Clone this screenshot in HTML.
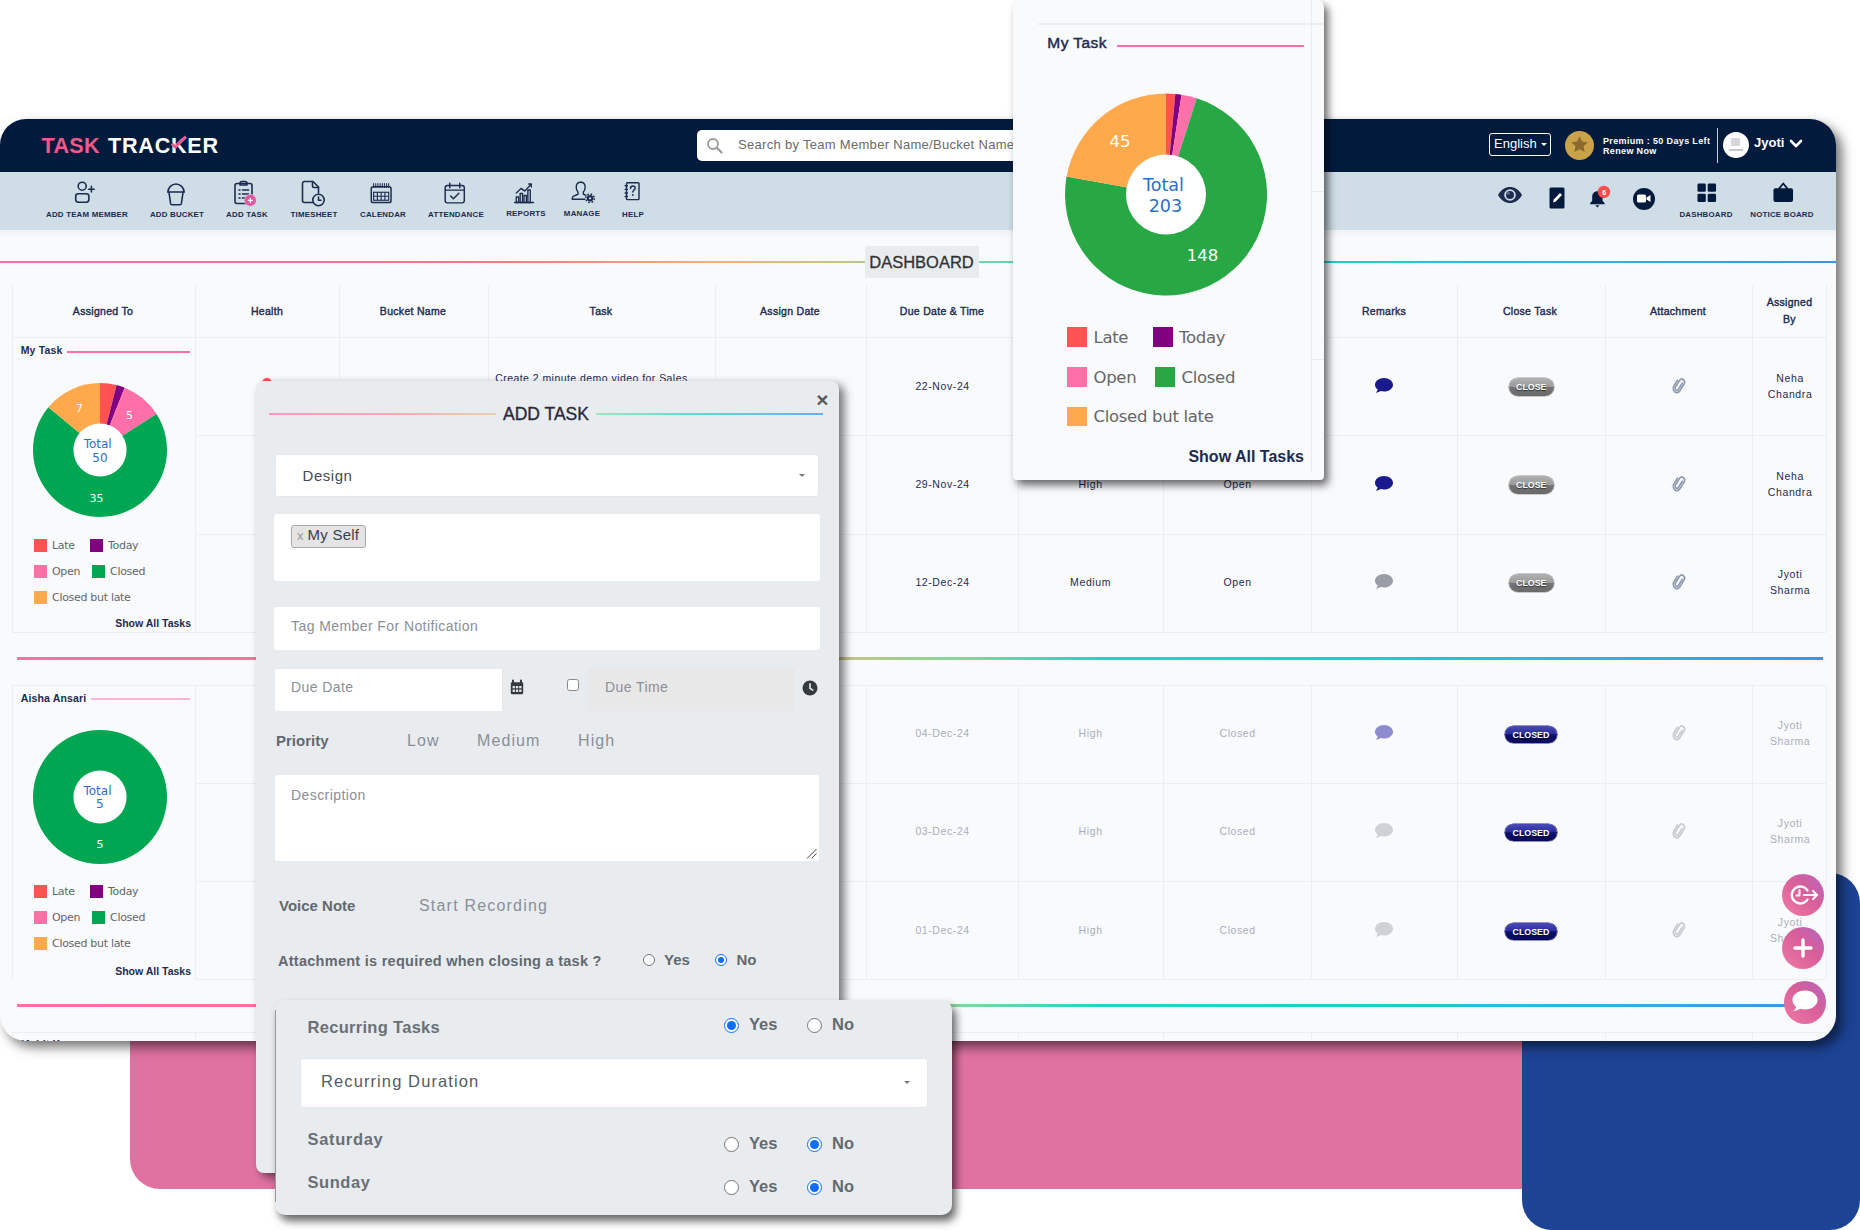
<!DOCTYPE html>
<html lang="en">
<head>
<meta charset="utf-8">
<title>Task Tracker</title>
<style>
*{box-sizing:border-box;margin:0;padding:0}
html,body{width:1860px;height:1230px;overflow:hidden;background:#fff;font-family:"Liberation Sans",sans-serif;color:#1d2b4f}
.abs{position:absolute}
#stage{position:relative;width:1860px;height:1230px;overflow:hidden}
#pink{left:129.5px;top:900px;width:1500px;height:289px;background:#e072a2;border-radius:0 0 0 30px}
#blue{left:1522px;top:873px;width:338px;height:357px;background:#1c4394;border-radius:30px}
#app{left:0;top:119px;width:1836px;height:921.7px;background:#f9fafc;border-radius:26px;box-shadow:6px 6px 12px rgba(0,0,0,.55)}
#appin{left:0;top:0;width:1836px;height:921.7px;border-radius:26px;overflow:hidden}
#hdr{left:0;top:0;width:1836px;height:53px;background:#021b3d}
#tb{left:0;top:53px;width:1836px;height:58px;background:#cfdde6}
#tbsh{left:0;top:111px;width:1836px;height:8px;background:linear-gradient(#eef1f5,#f9fafc)}
.t{position:absolute;white-space:nowrap;line-height:1}
.c{transform:translateX(-50%);text-align:center}
.r{transform:translateX(-100%);text-align:right}
.lbl{font-size:7.9px;font-weight:bold;letter-spacing:.2px;color:#1d2b4f}
.vl{position:absolute;width:1px;background:#eceef2}
.hl{position:absolute;height:1px;background:#eceef2}
.th{font-size:10.5px;letter-spacing:.3px;color:#1d2b4f;-webkit-text-stroke:.4px #1d2b4f}
.td{font-size:10.5px;color:#1d2b4f;letter-spacing:.6px;padding-left:1.2px}
.fd{color:#a9aebb}
.g{font-family:"DejaVu Sans",sans-serif}
.lg{font-family:"DejaVu Sans",sans-serif;color:#666;font-size:11px;letter-spacing:-.3px}
.grad{position:absolute;height:2px;background:linear-gradient(90deg,#ff6fa5 0%,#ff7296 18%,#f67c80 28%,#f5ae7c 39%,#c3c487 46%,#86d69a 52%,#1fd6c6 60%,#14d3cb 74%,#2db6e0 86%,#3f93e6 100%)}
.pill{position:absolute;height:17.5px;border-radius:9px;font-size:8.8px;font-weight:bold;color:#fff;text-align:center;line-height:18px;text-shadow:0 1px 1px rgba(0,0,0,.55)}
.close{width:45.5px;background:linear-gradient(#b0b0b0 0%,#9c9c9c 48%,#747474 52%,#6a6a6a 100%);box-shadow:0 0 0 .6px #9a9a9a}
.closed{width:52.5px;background:linear-gradient(#4a4ab8 0%,#2c2c9c 46%,#0e0e6a 52%,#0a0a5c 100%);box-shadow:0 0 0 .6px #2a2a80}
.inp{position:absolute;background:#fff;border-radius:3px}
.ph{color:#8a8f98;letter-spacing:.42px}
.rad{position:absolute;width:13px;height:13px;border-radius:50%;border:1px solid #767676;background:#fff}
.rad.on{border:1.5px solid #0d6efd}
.rad.on::after{content:"";position:absolute;left:2px;top:2px;right:2px;bottom:2px;border-radius:50%;background:#0d6efd}
.fab{position:absolute;width:42.600px;height:42.600px;border-radius:50%;background:linear-gradient(225deg,#b565c0 0%,#d85f98 45%,#f07ba8 100%)}
</style>
</head>
<body>
<div id="stage">
<div id="pink" class="abs"></div>
<div id="blue" class="abs"></div>
<div id="app" class="abs"><div id="appin" class="abs">
<div id="hdr" class="abs"></div>
<div id="tb" class="abs"></div>
<div id="tbsh" class="abs"></div>

<div class="t" style="left:41.600px;top:15.900px;font-size:21.600px;font-weight:bold;letter-spacing:.25px;word-spacing:2px;color:#fff"><span style="color:#ee5a8a">TASK</span> <span style="letter-spacing:.75px">TRACKER</span></div>
<svg class="abs" style="left:168px;top:14px" width="22" height="18" viewBox="168 133 22 18"><path d="M171.700 143.600l3.600 3.500 10.600-10.500" fill="none" stroke="#ee5a8a" stroke-width="3"/></svg>
<div class="abs" style="left:697px;top:11px;width:360px;height:30.5px;background:#fff;border-radius:5px"></div>
<svg class="abs" style="left:706px;top:18px" width="18" height="18" viewBox="0 0 18 18"><circle cx="7" cy="7" r="5" fill="none" stroke="#9a9a9a" stroke-width="1.8"/><path d="M10.8 10.8L15.5 15.5" stroke="#9a9a9a" stroke-width="2.2" stroke-linecap="round"/></svg>
<div class="t" style="left:738px;top:18.5px;font-size:13px;letter-spacing:.3px;color:#6a6a6a">Search by Team Member Name/Bucket Name</div>
<div class="abs" style="left:1489px;top:14px;width:62px;height:23px;border:1px solid #fff;border-radius:3px"></div>
<div class="t" style="left:1494px;top:18px;font-size:13px;color:#fff">English</div>
<div class="abs" style="left:1541px;top:24px;width:0;height:0;border-left:3px solid transparent;border-right:3px solid transparent;border-top:3px solid #fff"></div>
<div class="abs" style="left:1565px;top:12px;width:29px;height:29px;border-radius:50%;background:#c9a24a"></div>
<svg class="abs" style="left:1569px;top:15px" width="21" height="21" viewBox="0 0 24 24"><path d="M12 2.5l2.9 6.2 6.6.8-4.9 4.6 1.3 6.6L12 17.4l-5.9 3.3 1.3-6.6L2.5 9.5l6.6-.8z" fill="#8a6a2f"/></svg>
<div class="t" style="left:1603px;top:16.5px;font-size:9px;font-weight:bold;letter-spacing:.35px;color:#fff;line-height:10px;white-space:pre">Premium : 50 Days Left
Renew Now</div>
<div class="abs" style="left:1717px;top:9px;width:1px;height:35px;background:#c8d0dc"></div>
<div class="abs" style="left:1723px;top:13px;width:26px;height:26px;border-radius:50%;background:#fff"></div>
<div class="abs" style="left:1731px;top:19px;width:9px;height:8px;background:#d5d7db;border-radius:1px"></div>
<div class="abs" style="left:1729px;top:30px;width:14px;height:2px;background:#c5c7cb"></div>
<div class="t" style="left:1754px;top:17px;font-size:13px;font-weight:bold;color:#fff">Jyoti</div>
<svg class="abs" style="left:1789px;top:20px" width="14" height="10" viewBox="0 0 14 10"><path d="M2 2l5 5 5-5" fill="none" stroke="#fff" stroke-width="2.6" stroke-linecap="round" stroke-linejoin="round"/></svg>


<svg class="abs" style="left:72px;top:61px" width="26" height="26" viewBox="0 0 26 26"><circle cx="10.2" cy="6.2" r="4" fill="none" stroke="#1d2b4f" stroke-width="1.6" stroke-linecap="round" stroke-linejoin="round"/><rect x="3.7" y="13.8" width="13.2" height="8.4" rx="2.6" fill="none" stroke="#1d2b4f" stroke-width="1.6" stroke-linecap="round" stroke-linejoin="round"/><path d="M19.4 6.400v5.600M16.600 9.200h5.600" fill="none" stroke="#1d2b4f" stroke-width="1.6" stroke-linecap="round" stroke-linejoin="round"/></svg>
<svg class="abs" style="left:164px;top:61px" width="24" height="28" viewBox="0 0 24 28"><path d="M4 12a8 8 0 0 1 16 0" fill="none" stroke="#1d2b4f" stroke-width="1.6" stroke-linecap="round" stroke-linejoin="round"/><path d="M3.800 12h16.400" fill="none" stroke="#1d2b4f" stroke-width="1.6" stroke-linecap="round" stroke-linejoin="round" stroke-width="2"/><path d="M5 12.5l1.6 11a1.5 1.5 0 0 0 1.5 1.3h7.8a1.5 1.5 0 0 0 1.5-1.3l1.6-11" fill="none" stroke="#1d2b4f" stroke-width="1.6" stroke-linecap="round" stroke-linejoin="round"/></svg>
<svg class="abs" style="left:232px;top:60px" width="28" height="30" viewBox="0 0 28 30"><rect x="3" y="4.5" width="17" height="20" rx="2" fill="none" stroke="#1d2b4f" stroke-width="1.6" stroke-linecap="round" stroke-linejoin="round"/><path d="M8 4.5c0-1.2.8-2 2-2h3c1.200 0 2 .8 2 2v1.500H8z" fill="none" stroke="#1d2b4f" stroke-width="1.6" stroke-linecap="round" stroke-linejoin="round"/><path d="M7 11h1M10.500 11h6M7 15h1M10.500 15h6M7 19h1M10.500 19h3" fill="none" stroke="#1d2b4f" stroke-width="1.6" stroke-linecap="round" stroke-linejoin="round"/><circle cx="18.300" cy="21.300" r="6" fill="#e2589f" stroke="#d9d9ec" stroke-width=".6"/><path d="M18.300 19.300v4M16.300 21.300h4" stroke="#fff" stroke-width="1.300" stroke-linecap="round"/></svg>
<svg class="abs" style="left:299px;top:59px" width="28" height="32" viewBox="0 0 28 32"><path d="M15.500 24.500H5.500a2 2 0 0 1-2-2V5.500a2 2 0 0 1 2-2h8.500l5.500 5.500v6" fill="none" stroke="#1d2b4f" stroke-width="1.6" stroke-linecap="round" stroke-linejoin="round"/><path d="M13.500 3.500v4.500a1.500 1.500 0 0 0 1.500 1.500h4.500" fill="none" stroke="#1d2b4f" stroke-width="1.6" stroke-linecap="round" stroke-linejoin="round"/><circle cx="19.500" cy="22" r="5.700" fill="#cfdde6" stroke="#1d2b4f" stroke-width="1.600"/><path d="M19.500 19v3.200h2.500" fill="none" stroke="#1d2b4f" stroke-width="1.6" stroke-linecap="round" stroke-linejoin="round" stroke-width="1.400"/></svg>
<svg class="abs" style="left:368.300px;top:62px" width="26.300" height="26.300" viewBox="0 0 28 28"><rect x="3.500" y="6" width="21" height="17" rx="2" fill="none" stroke="#1d2b4f" stroke-width="1.6" stroke-linecap="round" stroke-linejoin="round"/><path d="M6 2.800v4M8.300 2.800v4M10.600 2.800v4M12.900 2.800v4M15.200 2.800v4M17.500 2.800v4M19.800 2.800v4M22 2.800v4" stroke="#1d2b4f" stroke-width="1.100" stroke-linecap="round"/><rect x="6" y="12" width="16" height="8.500" fill="none" stroke="#1d2b4f" stroke-width="1.200"/><path d="M6 16.200h16M10 12v8.500M14 12v8.500M18 12v8.500" stroke="#1d2b4f" stroke-width="1.200"/></svg>
<svg class="abs" style="left:441.800px;top:61.500px" width="25.500" height="25.500" viewBox="0 0 28 28"><rect x="3.500" y="5" width="21" height="19" rx="2.500" fill="none" stroke="#1d2b4f" stroke-width="1.6" stroke-linecap="round" stroke-linejoin="round"/><path d="M8.500 2.500v5M19.500 2.500v5M3.500 10h21" fill="none" stroke="#1d2b4f" stroke-width="1.6" stroke-linecap="round" stroke-linejoin="round"/><path d="M9.500 16.500l3 3 6-6" fill="none" stroke="#1d2b4f" stroke-width="1.6" stroke-linecap="round" stroke-linejoin="round"/></svg>
<svg class="abs" style="left:512.300px;top:59.500px" width="24" height="28" viewBox="0 0 28 28" preserveAspectRatio="none"><path d="M3 23.500h22" fill="none" stroke="#1d2b4f" stroke-width="1.6" stroke-linecap="round" stroke-linejoin="round" stroke-width="1.300"/><rect x="5" y="18" width="2.800" height="5.500" fill="none" stroke="#1d2b4f" stroke-width="1.6" stroke-linecap="round" stroke-linejoin="round" stroke-width="1.200"/><rect x="9.500" y="14.500" width="2.800" height="9" fill="none" stroke="#1d2b4f" stroke-width="1.6" stroke-linecap="round" stroke-linejoin="round" stroke-width="1.200"/><rect x="14" y="16.500" width="2.800" height="7" fill="none" stroke="#1d2b4f" stroke-width="1.6" stroke-linecap="round" stroke-linejoin="round" stroke-width="1.200"/><rect x="18.500" y="11" width="2.800" height="12.500" fill="none" stroke="#1d2b4f" stroke-width="1.6" stroke-linecap="round" stroke-linejoin="round" stroke-width="1.200"/><path d="M5 14l5.500-4.500 4.500 2.500 7-6.500" fill="none" stroke="#1d2b4f" stroke-width="1.6" stroke-linecap="round" stroke-linejoin="round" stroke-width="1.300"/><path d="M19.500 5h3v3" fill="none" stroke="#1d2b4f" stroke-width="1.6" stroke-linecap="round" stroke-linejoin="round" stroke-width="1.300"/></svg>
<svg class="abs" style="left:569.5px;top:59.500px" width="28.500" height="27" viewBox="0 0 32 30"><path d="M12 3.500c3 0 5 2.200 5 5.500 0 2.500-1 4.500-2 5.500v2.500l3 1.200" fill="none" stroke="#1d2b4f" stroke-width="1.6" stroke-linecap="round" stroke-linejoin="round"/><path d="M12 3.500c-3 0-5 2.200-5 5.500 0 2.500 1 4.500 2 5.500v2.500l-5 2c-1.200.5-1.500 1.500-1.500 3v.500h14" fill="none" stroke="#1d2b4f" stroke-width="1.6" stroke-linecap="round" stroke-linejoin="round"/><circle cx="22.500" cy="21.500" r="3.600" fill="#1d2b4f"/><circle cx="22.500" cy="21.500" r="4.800" fill="none" stroke="#1d2b4f" stroke-width="1.600" stroke-dasharray="1.900 1.870"/><circle cx="22.500" cy="21.500" r="1.300" fill="#cfdde6"/></svg>
<svg class="abs" style="left:622px;top:61px" width="21.500" height="25" viewBox="0 0 24 28"><rect x="5" y="3" width="14" height="19" rx="1" fill="none" stroke="#1d2b4f" stroke-width="1.6" stroke-linecap="round" stroke-linejoin="round" stroke-width="1.500"/><path d="M3.500 6.500h2.500M3.500 10.500h2.500M3.500 14.500h2.500M3.500 18.500h2.500" fill="none" stroke="#1d2b4f" stroke-width="1.6" stroke-linecap="round" stroke-linejoin="round" stroke-width="1.300"/><path d="M9.500 9.500c0-1.700 1.100-2.700 2.600-2.700s2.600 1 2.600 2.400c0 2-2.600 2.200-2.600 4.300" fill="none" stroke="#1d2b4f" stroke-width="1.6" stroke-linecap="round" stroke-linejoin="round" stroke-width="1.500"/><circle cx="12.100" cy="16.800" r="1" fill="#1d2b4f"/></svg>

<div class="t c lbl" style="left:87px;top:92px">ADD TEAM MEMBER</div>
<div class="t c lbl" style="left:177px;top:92px">ADD BUCKET</div>
<div class="t c lbl" style="left:247px;top:92px">ADD TASK</div>
<div class="t c lbl" style="left:314px;top:92px">TIMESHEET</div>
<div class="t c lbl" style="left:383px;top:92px">CALENDAR</div>
<div class="t c lbl" style="left:456px;top:92px">ATTENDANCE</div>
<div class="t c lbl" style="left:526px;top:91px">REPORTS</div>
<div class="t c lbl" style="left:582px;top:91px">MANAGE</div>
<div class="t c lbl" style="left:633px;top:92px">HELP</div>
<div class="t c lbl" style="left:1706px;top:92px">DASHBOARD</div>
<div class="t c lbl" style="left:1782px;top:92px">NOTICE BOARD</div>

<svg class="abs" style="left:1497px;top:67px" width="26" height="18" viewBox="0 0 26 18"><path d="M1 9C4 3.500 8.500 1 13 1s9 2.500 12 8c-3 5.500-7.500 8-12 8S4 14.500 1 9z" fill="#1d2b4f"/><circle cx="13" cy="9" r="5.800" fill="#cfdde6"/><circle cx="13" cy="9" r="4" fill="#1d2b4f"/><circle cx="11.300" cy="7.300" r="1.500" fill="#5a6a8a"/></svg>
<svg class="abs" style="left:1549px;top:68px" width="16" height="22" viewBox="0 0 16 22"><rect x=".5" y=".5" width="15" height="21" rx="1.500" fill="#021b3d"/><path d="M4 15.500l.8-3L11 6l2 2-6.200 6.500z" fill="#fff"/></svg>
<svg class="abs" style="left:1587.300px;top:64.300px" width="27" height="27" viewBox="0 0 26 26"><path d="M10 8c-3.200 0-5 2.500-5 5.500v3.500l-2 2.500v1h14v-1l-2-2.500v-3.500c0-3-1.800-5.500-5-5.500z" fill="#021b3d"/><path d="M8 21.500h4l-2 2.200z" fill="#021b3d"/><circle cx="16.300" cy="8.600" r="6" fill="#ff4d4d"/></svg>
<div class="t" style="left:1602.300px;top:70px;font-size:7px;font-weight:bold;color:#fff">6</div>
<div class="abs" style="left:1633px;top:68.500px;width:22px;height:22px;border-radius:50%;background:#021b3d"></div>
<svg class="abs" style="left:1636.5px;top:74px" width="15" height="11" viewBox="0 0 15 11"><rect x="0" y="1.500" width="9" height="8" rx="1.500" fill="#fff"/><path d="M9.500 4.500l4-2.500v7l-4-2.500z" fill="#fff"/></svg>
<svg class="abs" style="left:1697px;top:64px" width="19.500" height="19.500" viewBox="0 0 21 21"><rect x=".5" y=".5" width="9" height="9" rx="1.500" fill="#021b3d"/><rect x="11.500" y=".5" width="9" height="9" rx="1.500" fill="#021b3d"/><rect x=".5" y="11.500" width="9" height="9" rx="1.500" fill="#021b3d"/><rect x="11.500" y="11.500" width="9" height="9" rx="1.500" fill="#021b3d"/></svg>
<svg class="abs" style="left:1771.500px;top:62px" width="22.500" height="22.500" viewBox="0 0 23 23"><path d="M7 8l4.500-5.500L16 8" fill="none" stroke="#021b3d" stroke-width="1.800" stroke-linejoin="round"/><rect x="1.500" y="7.500" width="20" height="14" rx="2" fill="#021b3d"/></svg>

<div class="grad" style="left:0;top:141.5px;width:1836px"></div>
<div class="abs" style="left:865px;top:127.3px;width:113.5px;height:31.7px;background:#e9ecef"></div>
<div class="t c" style="left:921.5px;top:134.8px;font-size:16.500px;color:#333;-webkit-text-stroke:.3px #333">DASHBOARD</div>
<div class="vl" style="left:12px;top:166px;height:52px"></div>
<div class="vl" style="left:195px;top:166px;height:52px"></div>
<div class="vl" style="left:339px;top:166px;height:52px"></div>
<div class="vl" style="left:488px;top:166px;height:52px"></div>
<div class="vl" style="left:715px;top:166px;height:52px"></div>
<div class="vl" style="left:866px;top:166px;height:52px"></div>
<div class="vl" style="left:1018px;top:166px;height:52px"></div>
<div class="vl" style="left:1163px;top:166px;height:52px"></div>
<div class="vl" style="left:1311px;top:166px;height:52px"></div>
<div class="vl" style="left:1457px;top:166px;height:52px"></div>
<div class="vl" style="left:1605px;top:166px;height:52px"></div>
<div class="vl" style="left:1752px;top:166px;height:52px"></div>
<div class="vl" style="left:1826px;top:166px;height:52px"></div>
<div class="hl" style="left:12px;top:218px;width:1814px"></div>
<div class="t c th" style="left:103px;top:187px">Assigned To</div>
<div class="t c th" style="left:267px;top:187px">Health</div>
<div class="t c th" style="left:413px;top:187px">Bucket Name</div>
<div class="t c th" style="left:601px;top:187px">Task</div>
<div class="t c th" style="left:790px;top:187px">Assign Date</div>
<div class="t c th" style="left:942px;top:187px">Due Date &amp; Time</div>
<div class="t c th" style="left:1090px;top:187px">Priority</div>
<div class="t c th" style="left:1237px;top:187px">Status</div>
<div class="t c th" style="left:1384px;top:187px">Remarks</div>
<div class="t c th" style="left:1530px;top:187px">Close Task</div>
<div class="t c th" style="left:1678px;top:187px">Attachment</div>
<div class="t c th" style="left:1789.500px;top:175px;line-height:16.500px;white-space:pre">Assigned
By</div>
<div class="vl" style="left:12px;top:218px;height:295px"></div>
<div class="vl" style="left:195px;top:218px;height:295px"></div>
<div class="vl" style="left:339px;top:218px;height:295px"></div>
<div class="vl" style="left:488px;top:218px;height:295px"></div>
<div class="vl" style="left:715px;top:218px;height:295px"></div>
<div class="vl" style="left:866px;top:218px;height:295px"></div>
<div class="vl" style="left:1018px;top:218px;height:295px"></div>
<div class="vl" style="left:1163px;top:218px;height:295px"></div>
<div class="vl" style="left:1311px;top:218px;height:295px"></div>
<div class="vl" style="left:1457px;top:218px;height:295px"></div>
<div class="vl" style="left:1605px;top:218px;height:295px"></div>
<div class="vl" style="left:1752px;top:218px;height:295px"></div>
<div class="vl" style="left:1826px;top:218px;height:295px"></div>
<div class="hl" style="left:12px;top:218px;width:1814px"></div>
<div class="hl" style="left:195px;top:316px;width:1631px"></div>
<div class="hl" style="left:195px;top:415px;width:1631px"></div>
<div class="hl" style="left:12px;top:513px;width:1814px"></div>
<div class="grad" style="left:17px;top:538px;width:1806px;height:2.700px"></div>
<div class="vl" style="left:12px;top:565.5px;height:294.5px"></div>
<div class="vl" style="left:195px;top:565.5px;height:294.5px"></div>
<div class="vl" style="left:339px;top:565.5px;height:294.5px"></div>
<div class="vl" style="left:488px;top:565.5px;height:294.5px"></div>
<div class="vl" style="left:715px;top:565.5px;height:294.5px"></div>
<div class="vl" style="left:866px;top:565.5px;height:294.5px"></div>
<div class="vl" style="left:1018px;top:565.5px;height:294.5px"></div>
<div class="vl" style="left:1163px;top:565.5px;height:294.5px"></div>
<div class="vl" style="left:1311px;top:565.5px;height:294.5px"></div>
<div class="vl" style="left:1457px;top:565.5px;height:294.5px"></div>
<div class="vl" style="left:1605px;top:565.5px;height:294.5px"></div>
<div class="vl" style="left:1752px;top:565.5px;height:294.5px"></div>
<div class="vl" style="left:1826px;top:565.5px;height:294.5px"></div>
<div class="hl" style="left:12px;top:565.5px;width:1814px"></div>
<div class="hl" style="left:195px;top:663.5px;width:1631px"></div>
<div class="hl" style="left:195px;top:762px;width:1631px"></div>
<div class="hl" style="left:195px;top:860px;width:1631px"></div>
<div class="grad" style="left:17px;top:885px;width:1806px;height:2.700px"></div>
<div class="vl" style="left:12px;top:912.5px;height:98.5px"></div>
<div class="vl" style="left:195px;top:912.5px;height:98.5px"></div>
<div class="vl" style="left:339px;top:912.5px;height:98.5px"></div>
<div class="vl" style="left:488px;top:912.5px;height:98.5px"></div>
<div class="vl" style="left:715px;top:912.5px;height:98.5px"></div>
<div class="vl" style="left:866px;top:912.5px;height:98.5px"></div>
<div class="vl" style="left:1018px;top:912.5px;height:98.5px"></div>
<div class="vl" style="left:1163px;top:912.5px;height:98.5px"></div>
<div class="vl" style="left:1311px;top:912.5px;height:98.5px"></div>
<div class="vl" style="left:1457px;top:912.5px;height:98.5px"></div>
<div class="vl" style="left:1605px;top:912.5px;height:98.5px"></div>
<div class="vl" style="left:1752px;top:912.5px;height:98.5px"></div>
<div class="vl" style="left:1826px;top:912.5px;height:98.5px"></div>
<div class="hl" style="left:12px;top:912.5px;width:1814px"></div>
<div class="hl" style="left:12px;top:1011px;width:1814px"></div>
<div class="t" style="left:20.7px;top:920.4px;font-size:10.5px;letter-spacing:.15px;font-weight:bold;color:#1d2b4f">Mohit Kumar</div>
<div class="t c td" style="left:942px;top:262px">22-Nov-24</div>
<div class="t c td" style="left:1090px;top:262px">High</div>
<div class="t c td" style="left:1237px;top:262px">Open</div>
<svg class="abs" style="left:1374px;top:258px" width="20" height="17" viewBox="0 0 20 17"><path d="M10 1C5 1 1 4 1 7.800c0 1.900 1 3.600 2.600 4.800-.2 1.200-.9 2.300-1.900 3 .1.100 2.800.1 4.900-1.500 1 .3 2.200.5 3.400.5 5 0 9-3 9-6.800S15 1 10 1z" fill="#1a1a8c"/></svg>
<div class="pill close" style="left:1508.5px;top:259.3px">CLOSE</div>
<svg class="abs" style="left:1671px;top:259px;transform:rotate(-9deg) scale(.92,1.060)" width="16.5" height="16.5" viewBox="0 0 20 20"><path d="M14.500 7.200l-6.300 6.300a2.300 2.300 0 0 1-3.300-3.300l6.800-6.800a3.500 3.500 0 0 1 5 5l-7 7a4.700 4.700 0 0 1-6.700-6.700l5.800-5.800" fill="none" stroke="#8c98ad" stroke-width="2" stroke-linecap="round" stroke-linejoin="round"/></svg>
<div class="t c td" style="left:1789.5px;top:250.5px;line-height:16px;white-space:pre">Neha
Chandra</div>
<div class="t c td" style="left:942px;top:360px">29-Nov-24</div>
<div class="t c td" style="left:1090px;top:360px">High</div>
<div class="t c td" style="left:1237px;top:360px">Open</div>
<svg class="abs" style="left:1374px;top:356px" width="20" height="17" viewBox="0 0 20 17"><path d="M10 1C5 1 1 4 1 7.800c0 1.900 1 3.600 2.600 4.800-.2 1.200-.9 2.300-1.900 3 .1.100 2.800.1 4.900-1.500 1 .3 2.200.5 3.400.5 5 0 9-3 9-6.800S15 1 10 1z" fill="#1a1a8c"/></svg>
<div class="pill close" style="left:1508.5px;top:357.3px">CLOSE</div>
<svg class="abs" style="left:1671px;top:357px;transform:rotate(-9deg) scale(.92,1.060)" width="16.5" height="16.5" viewBox="0 0 20 20"><path d="M14.500 7.200l-6.300 6.300a2.300 2.300 0 0 1-3.300-3.300l6.800-6.800a3.500 3.500 0 0 1 5 5l-7 7a4.700 4.700 0 0 1-6.700-6.700l5.800-5.800" fill="none" stroke="#8c98ad" stroke-width="2" stroke-linecap="round" stroke-linejoin="round"/></svg>
<div class="t c td" style="left:1789.5px;top:348.5px;line-height:16px;white-space:pre">Neha
Chandra</div>
<div class="t c td" style="left:942px;top:458px">12-Dec-24</div>
<div class="t c td" style="left:1090px;top:458px">Medium</div>
<div class="t c td" style="left:1237px;top:458px">Open</div>
<svg class="abs" style="left:1374px;top:454px" width="20" height="17" viewBox="0 0 20 17"><path d="M10 1C5 1 1 4 1 7.800c0 1.900 1 3.600 2.600 4.800-.2 1.200-.9 2.300-1.900 3 .1.100 2.800.1 4.900-1.500 1 .3 2.200.5 3.400.5 5 0 9-3 9-6.800S15 1 10 1z" fill="#9a9ea6"/></svg>
<div class="pill close" style="left:1508.5px;top:455.3px">CLOSE</div>
<svg class="abs" style="left:1671px;top:455px;transform:rotate(-9deg) scale(.92,1.060)" width="16.5" height="16.5" viewBox="0 0 20 20"><path d="M14.500 7.200l-6.300 6.300a2.300 2.300 0 0 1-3.300-3.300l6.800-6.800a3.500 3.500 0 0 1 5 5l-7 7a4.700 4.700 0 0 1-6.700-6.700l5.800-5.800" fill="none" stroke="#8c98ad" stroke-width="2" stroke-linecap="round" stroke-linejoin="round"/></svg>
<div class="t c td" style="left:1789.5px;top:446.5px;line-height:16px;white-space:pre">Jyoti
Sharma</div>
<div class="t c td fd" style="left:942px;top:609px">04-Dec-24</div>
<div class="t c td fd" style="left:1090px;top:609px">High</div>
<div class="t c td fd" style="left:1237px;top:609px">Closed</div>
<svg class="abs" style="left:1374px;top:605px" width="20" height="17" viewBox="0 0 20 17"><path d="M10 1C5 1 1 4 1 7.800c0 1.900 1 3.600 2.600 4.800-.2 1.200-.9 2.300-1.900 3 .1.100 2.800.1 4.900-1.500 1 .3 2.200.5 3.400.5 5 0 9-3 9-6.800S15 1 10 1z" fill="#8f8bd0"/></svg>
<div class="pill closed" style="left:1504.7px;top:606.7px">CLOSED</div>
<svg class="abs" style="left:1671px;top:606px;transform:rotate(-9deg) scale(.92,1.060)" width="16.5" height="16.5" viewBox="0 0 20 20"><path d="M14.500 7.200l-6.300 6.300a2.300 2.300 0 0 1-3.300-3.300l6.800-6.800a3.500 3.500 0 0 1 5 5l-7 7a4.700 4.700 0 0 1-6.700-6.700l5.800-5.800" fill="none" stroke="#c6cad1" stroke-width="2" stroke-linecap="round" stroke-linejoin="round"/></svg>
<div class="t c td fd" style="left:1789.5px;top:597.5px;line-height:16px;white-space:pre">Jyoti
Sharma</div>
<div class="t c td fd" style="left:942px;top:707px">03-Dec-24</div>
<div class="t c td fd" style="left:1090px;top:707px">High</div>
<div class="t c td fd" style="left:1237px;top:707px">Closed</div>
<svg class="abs" style="left:1374px;top:703px" width="20" height="17" viewBox="0 0 20 17"><path d="M10 1C5 1 1 4 1 7.800c0 1.900 1 3.600 2.600 4.800-.2 1.200-.9 2.300-1.900 3 .1.100 2.800.1 4.900-1.500 1 .3 2.200.5 3.400.5 5 0 9-3 9-6.800S15 1 10 1z" fill="#cfd1d6"/></svg>
<div class="pill closed" style="left:1504.7px;top:704.7px">CLOSED</div>
<svg class="abs" style="left:1671px;top:704px;transform:rotate(-9deg) scale(.92,1.060)" width="16.5" height="16.5" viewBox="0 0 20 20"><path d="M14.500 7.200l-6.300 6.300a2.300 2.300 0 0 1-3.300-3.300l6.800-6.800a3.500 3.500 0 0 1 5 5l-7 7a4.700 4.700 0 0 1-6.700-6.700l5.800-5.800" fill="none" stroke="#c6cad1" stroke-width="2" stroke-linecap="round" stroke-linejoin="round"/></svg>
<div class="t c td fd" style="left:1789.5px;top:695.5px;line-height:16px;white-space:pre">Jyoti
Sharma</div>
<div class="t c td fd" style="left:942px;top:806px">01-Dec-24</div>
<div class="t c td fd" style="left:1090px;top:806px">High</div>
<div class="t c td fd" style="left:1237px;top:806px">Closed</div>
<svg class="abs" style="left:1374px;top:802px" width="20" height="17" viewBox="0 0 20 17"><path d="M10 1C5 1 1 4 1 7.800c0 1.900 1 3.600 2.600 4.800-.2 1.200-.9 2.300-1.900 3 .1.100 2.800.1 4.900-1.500 1 .3 2.200.5 3.400.5 5 0 9-3 9-6.800S15 1 10 1z" fill="#cfd1d6"/></svg>
<div class="pill closed" style="left:1504.7px;top:803.7px">CLOSED</div>
<svg class="abs" style="left:1671px;top:803px;transform:rotate(-9deg) scale(.92,1.060)" width="16.5" height="16.5" viewBox="0 0 20 20"><path d="M14.500 7.200l-6.300 6.300a2.300 2.300 0 0 1-3.300-3.300l6.800-6.800a3.500 3.500 0 0 1 5 5l-7 7a4.700 4.700 0 0 1-6.700-6.700l5.800-5.800" fill="none" stroke="#c6cad1" stroke-width="2" stroke-linecap="round" stroke-linejoin="round"/></svg>
<div class="t c td fd" style="left:1789.5px;top:794.5px;line-height:16px;white-space:pre">Jyoti
Sharma</div>
<div class="t td" style="left:494px;top:253.6px;font-size:10.5px;letter-spacing:.45px">Create 2 minute demo video for Sales</div>
<div class="abs" style="left:262px;top:259px;width:10px;height:10px;border-radius:50%;background:#ff4d4d"></div>
<div class="t" style="left:20.7px;top:225.7px;font-size:10.5px;letter-spacing:.15px;font-weight:bold;color:#1d2b4f">My Task</div>
<div class="abs" style="left:67px;top:232.2px;width:123px;height:1.700px;background:#ff6fa5"></div>
<svg class="abs" style="left:29.700000000000003px;top:261.2px" width="140" height="140" viewBox="29.700000000000003 380.2 140 140"><path d="M99.7 450.2L99.70 383.20A67 67 0 0 1 116.36 385.30Z" fill="#ff5252"/>
<path d="M99.7 450.2L116.36 385.30A67 67 0 0 1 124.36 387.90Z" fill="#800080"/>
<path d="M99.7 450.2L124.36 387.90A67 67 0 0 1 156.27 414.30Z" fill="#ff6fa8"/>
<path d="M99.7 450.2L156.27 414.30A67 67 0 1 1 48.08 407.49Z" fill="#00a651"/>
<path d="M99.7 450.2L48.08 407.49A67 67 0 0 1 99.70 383.20Z" fill="#ffa94d"/>
<circle cx="99.7" cy="450.2" r="26.6" fill="#fff"/></svg>
<div class="t c g" style="left:97.7px;top:318.2px;font-size:12px;line-height:14px;color:#2970c8">Total</div>
<div class="t c g" style="left:100.0px;top:331.7px;font-size:12px;line-height:14px;color:#2970c8">50</div>
<div class="t c g" style="left:79.5px;top:284px;font-size:11px;color:#fff">7</div>
<div class="t c g" style="left:129.5px;top:291px;font-size:11px;color:#fff">5</div>
<div class="t c g" style="left:96.5px;top:373.5px;font-size:11px;color:#fff">35</div>
<div class="abs" style="left:34px;top:420px;width:13px;height:13px;background:#ff5252"></div>
<div class="t lg" style="left:52px;top:421px">Late</div>
<div class="abs" style="left:90px;top:420px;width:13px;height:13px;background:#800080"></div>
<div class="t lg" style="left:108px;top:421px">Today</div>
<div class="abs" style="left:34px;top:446px;width:13px;height:13px;background:#ff6fa8"></div>
<div class="t lg" style="left:52px;top:447px">Open</div>
<div class="abs" style="left:92px;top:446px;width:13px;height:13px;background:#00a651"></div>
<div class="t lg" style="left:110px;top:447px">Closed</div>
<div class="abs" style="left:34px;top:472px;width:13px;height:13px;background:#ffa94d"></div>
<div class="t lg" style="left:52px;top:473px">Closed but late</div>
<div class="t r" style="left:191px;top:499px;font-size:10.500px;font-weight:bold;color:#1d2b4f">Show All Tasks</div>
<div class="t" style="left:20.7px;top:573.7px;font-size:10.5px;letter-spacing:.15px;font-weight:bold;color:#1d2b4f">Aisha Ansari</div>
<div class="abs" style="left:91px;top:579px;width:99px;height:1.700px;background:#ffb3cd"></div>
<svg class="abs" style="left:29.5px;top:607.8px" width="140" height="140" viewBox="29.5 726.8 140 140"><circle cx="99.5" cy="796.8" r="67" fill="#00a651"/>
<circle cx="99.5" cy="796.8" r="26.6" fill="#fff"/></svg>
<div class="t c g" style="left:97.5px;top:664.8px;font-size:12px;line-height:14px;color:#2970c8">Total</div>
<div class="t c g" style="left:99.8px;top:678.3px;font-size:12px;line-height:14px;color:#2970c8">5</div>
<div class="t c g" style="left:100px;top:720px;font-size:11px;color:#fff">5</div>
<div class="abs" style="left:34px;top:766px;width:13px;height:13px;background:#ff5252"></div>
<div class="t lg" style="left:52px;top:767px">Late</div>
<div class="abs" style="left:90px;top:766px;width:13px;height:13px;background:#800080"></div>
<div class="t lg" style="left:108px;top:767px">Today</div>
<div class="abs" style="left:34px;top:792px;width:13px;height:13px;background:#ff6fa8"></div>
<div class="t lg" style="left:52px;top:793px">Open</div>
<div class="abs" style="left:92px;top:792px;width:13px;height:13px;background:#00a651"></div>
<div class="t lg" style="left:110px;top:793px">Closed</div>
<div class="abs" style="left:34px;top:818px;width:13px;height:13px;background:#ffa94d"></div>
<div class="t lg" style="left:52px;top:819px">Closed but late</div>
<div class="t r" style="left:191px;top:847px;font-size:10.500px;font-weight:bold;color:#1d2b4f">Show All Tasks</div>
</div></div>

<div class="fab" style="left:1781.500px;top:873.800px"></div>
<svg class="abs" style="left:1788px;top:882px" width="32" height="26" viewBox="0 0 32 26"><path d="M19.500 8.500A8.500 8.500 0 1 0 19.500 17.500" fill="none" stroke="#fff" stroke-width="2.300" stroke-linecap="round"/><path d="M11.500 8v5.500h-3" fill="none" stroke="#fff" stroke-width="2" stroke-linecap="round" stroke-linejoin="round"/><path d="M16 13h13M25 9l4 4-4 4" fill="none" stroke="#fff" stroke-width="2.200" stroke-linecap="round" stroke-linejoin="round"/></svg>
<div class="fab" style="left:1781.500px;top:926.800px"></div>
<svg class="abs" style="left:1793px;top:938px" width="20" height="20" viewBox="0 0 20 20"><path d="M10 2v16M2 10h16" stroke="#fff" stroke-width="3.400" stroke-linecap="round"/></svg>
<div class="fab" style="left:1783.500px;top:981px"></div>
<svg class="abs" style="left:1791px;top:988px" width="28" height="26" viewBox="0 0 20 17"><path d="M10 1C5 1 1 4 1 7.800c0 1.900 1 3.600 2.600 4.800-.2 1.200-.9 2.300-1.900 3 .1.100 2.800.1 4.900-1.500 1 .3 2.200.5 3.400.5 5 0 9-3 9-6.800S15 1 10 1z" fill="#fff"/></svg>

<div class="abs" style="left:1013px;top:0px;width:311px;height:480px;background:#f9fafc;border-radius:7px 7px 4px 4px;box-shadow:4px 5px 9px rgba(0,0,0,.6)"></div>
<div class="hl" style="left:1038px;top:22.600px;width:286px;height:2px;background:#eceef2"></div>
<div class="vl" style="left:1311px;top:0;height:472px;background:#e9ebef"></div>
<div class="hl" style="left:1311px;top:191px;width:13px;background:#e9ebef"></div>
<div class="hl" style="left:1311px;top:359px;width:13px;background:#e9ebef"></div>
<div class="t" style="left:1047.300px;top:35.300px;font-size:15.500px;letter-spacing:.45px;color:#1d2b4f;-webkit-text-stroke:.45px #1d2b4f">My Task</div>
<div class="abs" style="left:1117px;top:45px;width:187px;height:2px;background:#ff6fa5"></div>
<svg class="abs" style="left:1060px;top:89px" width="212" height="212" viewBox="1060 89 212 212"><path d="M1166 194.5L1166.00 93.50A101 101 0 0 1 1175.36 93.94Z" fill="#ff5252"/>
<path d="M1166 194.5L1175.36 93.94A101 101 0 0 1 1181.57 94.71Z" fill="#800080"/>
<path d="M1166 194.5L1181.57 94.71A101 101 0 0 1 1196.76 98.30Z" fill="#ff6fa8"/>
<path d="M1166 194.5L1196.76 98.30A101 101 0 1 1 1066.60 176.62Z" fill="#28a745"/>
<path d="M1166 194.5L1066.60 176.62A101 101 0 0 1 1166.00 93.50Z" fill="#ffa94d"/>
<circle cx="1166" cy="194.5" r="40" fill="#fff"/></svg>
<div class="t c g" style="left:1163.5px;top:175px;font-size:17.5px;line-height:21.5px;color:#2970c8">Total</div>
<div class="t c g" style="left:1165.4px;top:196px;font-size:17.5px;line-height:21.5px;color:#2970c8">203</div>
<div class="t c g" style="left:1120px;top:133.5px;font-size:16.5px;color:#fff">45</div>
<div class="t c g" style="left:1202.5px;top:248.3px;font-size:16.5px;color:#fff">148</div>
<div class="abs" style="left:1067px;top:327px;width:19.5px;height:19.5px;background:#ff5252"></div>
<div class="t lg" style="left:1093.5px;top:330px;font-size:16.5px">Late</div>
<div class="abs" style="left:1153px;top:327px;width:19.5px;height:19.5px;background:#800080"></div>
<div class="t lg" style="left:1179px;top:330px;font-size:16.5px">Today</div>
<div class="abs" style="left:1067px;top:367px;width:19.5px;height:19.5px;background:#ff6fa8"></div>
<div class="t lg" style="left:1093.5px;top:370px;font-size:16.5px">Open</div>
<div class="abs" style="left:1155px;top:367px;width:19.5px;height:19.5px;background:#28a745"></div>
<div class="t lg" style="left:1181.5px;top:370px;font-size:16.5px">Closed</div>
<div class="abs" style="left:1067px;top:406.5px;width:19.5px;height:19.5px;background:#ffa94d"></div>
<div class="t lg" style="left:1093.5px;top:409px;font-size:16.5px">Closed but late</div>
<div class="t r" style="left:1304px;top:449px;font-size:16px;font-weight:bold;color:#1d2b4f">Show All Tasks</div>
<div class="abs" style="left:256px;top:381px;width:583px;height:792px;background:#e9ecef;border-radius:8px;box-shadow:5px 4px 10px rgba(0,0,0,.55)"></div>
<div class="t c" style="left:822.5px;top:388.5px;font-size:21px;font-weight:bold;color:#5a5a5a">&times;</div>
<div class="abs" style="left:269px;top:413px;width:227px;height:2px;background:linear-gradient(90deg,#ff97bb,#f7a8b0 55%,#e6d2b0)"></div>
<div class="abs" style="left:596px;top:413px;width:227px;height:2px;background:linear-gradient(90deg,#9fe6bc,#5cdcd2 40%,#6aaef0)"></div>
<div class="t c" style="left:546px;top:405.5px;font-size:17.5px;color:#2a2a3a;-webkit-text-stroke:.35px #2a2a3a">ADD TASK</div>
<div class="inp" style="left:274.5px;top:454px;width:544.5px;height:43px;border:1px solid #e3e6ea"></div>
<div class="t" style="left:302.5px;top:468px;font-size:15px;letter-spacing:.55px;color:#454a54">Design</div>
<div class="abs" style="left:798.5px;top:474px;width:0;height:0;border-left:3.5px solid transparent;border-right:3.5px solid transparent;border-top:3.5px solid #777"></div>
<div class="inp" style="left:273.5px;top:513.5px;width:546.5px;height:67.5px"></div>
<div class="abs" style="left:291px;top:525px;width:75px;height:23px;background:#e4e4e4;border:1px solid #aaa;border-radius:3px"></div>
<div class="t" style="left:297px;top:529px;font-size:13px;color:#999">x</div>
<div class="t" style="left:307.5px;top:527px;font-size:15px;letter-spacing:.25px;color:#3a3f4f">My Self</div>
<div class="inp" style="left:273.5px;top:607px;width:546.5px;height:42.5px"></div>
<div class="t ph" style="left:291px;top:619px;font-size:14px">Tag Member For Notification</div>
<div class="inp" style="left:274.5px;top:669px;width:227.5px;height:41.5px;border-radius:3px 0 0 3px"></div>
<div class="t ph" style="left:291px;top:680px;font-size:14px">Due Date</div>
<div class="abs" style="left:502px;top:669px;width:24px;height:41.5px;background:#e9ecef;border:1px solid #e6e9ec"></div>
<svg class="abs" style="left:510.3px;top:679.3px" width="14" height="16" viewBox="0 0 14 16"><path d="M3 1.500v3M11 1.500v3" stroke="#343a40" stroke-width="2" stroke-linecap="round"/><rect x=".8" y="3.200" width="12.400" height="12" rx="1.200" fill="#343a40"/><g fill="#e9ecef"><rect x="2.600" y="7" width="2.300" height="2.300"/><rect x="5.900" y="7" width="2.300" height="2.300"/><rect x="9.200" y="7" width="2.300" height="2.300"/><rect x="2.600" y="10.600" width="2.300" height="2.300"/><rect x="5.900" y="10.600" width="2.300" height="2.300"/><rect x="9.200" y="10.600" width="2.300" height="2.300"/></g></svg>
<div class="abs" style="left:566.5px;top:678.5px;width:12.5px;height:12.5px;background:#fff;border:1px solid #8a8a8a;border-radius:2.5px"></div>
<div class="abs" style="left:587.5px;top:667.8px;width:207.5px;height:43.2px;background:#e8e8e8;border-radius:3px 0 0 3px"></div>
<div class="t ph" style="left:605px;top:680px;font-size:14px">Due Time</div>
<svg class="abs" style="left:802px;top:679.500px" width="16" height="16" viewBox="0 0 16 16"><circle cx="8" cy="8" r="7.500" fill="#343a40"/><path d="M8 3.800v4.600l2.800 1.700" fill="none" stroke="#e9ecef" stroke-width="1.600" stroke-linecap="round" stroke-linejoin="round"/></svg>
<div class="t" style="left:276px;top:733px;font-size:15px;font-weight:bold;color:#636970">Priority</div>
<div class="t ph" style="left:407px;top:732.500px;font-size:16px;letter-spacing:1.1px">Low</div>
<div class="t ph" style="left:477px;top:732.500px;font-size:16px;letter-spacing:1.1px">Medium</div>
<div class="t ph" style="left:578px;top:732.500px;font-size:16px;letter-spacing:1.1px">High</div>
<div class="inp" style="left:274.500px;top:774.500px;width:544.500px;height:86.500px"></div>
<div class="t ph" style="left:291px;top:787.500px;font-size:14px">Description</div>
<svg class="abs" style="left:806px;top:848px" width="11" height="11" viewBox="0 0 11 11"><path d="M1 10.500L10.500 1M5.500 10.500l5-5" stroke="#444" stroke-width="1"/></svg>
<div class="t" style="left:279px;top:898px;font-size:15px;font-weight:bold;color:#636970">Voice Note</div>
<div class="t ph" style="left:419px;top:898px;font-size:16px;letter-spacing:1.2px">Start Recording</div>
<div class="t" style="left:278px;top:954px;font-size:14.500px;letter-spacing:.27px;font-weight:bold;color:#636970">Attachment is required when closing a task ?</div>
<div class="rad" style="left:642.500px;top:953.500px;width:12.500px;height:12.500px"></div>
<div class="t" style="left:664px;top:952px;font-size:15px;font-weight:bold;color:#636970">Yes</div>
<div class="rad on" style="left:714.500px;top:953.500px;width:12.500px;height:12.500px"></div>
<div class="t" style="left:736.500px;top:952px;font-size:15px;font-weight:bold;color:#636970">No</div>
<div class="abs" style="left:275px;top:999.500px;width:677px;height:215.300px;background:#e9ecef;border-radius:10px;box-shadow:4px 6px 9px rgba(0,0,0,.6)"></div>
<div class="abs" style="left:275px;top:1010px;width:1px;height:192px;background:rgba(70,72,76,.5)"></div>
<div class="t" style="left:307.500px;top:1018.500px;font-size:16.500px;font-weight:bold;letter-spacing:.3px;color:#6a7077">Recurring Tasks</div>
<div class="rad on" style="left:724.0px;top:1017.5px;width:15px;height:15px"></div>
<div class="t" style="left:749px;top:1015.5px;font-size:16.500px;font-weight:bold;color:#636970">Yes</div>
<div class="rad" style="left:807.0px;top:1017.5px;width:15px;height:15px"></div>
<div class="t" style="left:832px;top:1015.5px;font-size:16.500px;font-weight:bold;color:#636970">No</div>
<div class="inp" style="left:300px;top:1057.800px;width:628px;height:49.800px;border:1px solid #e3e6ea"></div>
<div class="t" style="left:321px;top:1073px;font-size:16.500px;color:#555b63;letter-spacing:1.1px">Recurring Duration</div>
<div class="abs" style="left:904px;top:1080.500px;width:0;height:0;border-left:3.500px solid transparent;border-right:3.500px solid transparent;border-top:3.500px solid #777"></div>
<div class="t" style="left:307.500px;top:1131px;font-size:16.500px;font-weight:bold;letter-spacing:.65px;color:#6a7077">Saturday</div>
<div class="rad" style="left:724.0px;top:1137.0px;width:15px;height:15px"></div>
<div class="t" style="left:749px;top:1135.0px;font-size:16.500px;font-weight:bold;color:#636970">Yes</div>
<div class="rad on" style="left:807.0px;top:1137.0px;width:15px;height:15px"></div>
<div class="t" style="left:832px;top:1135.0px;font-size:16.500px;font-weight:bold;color:#636970">No</div>
<div class="t" style="left:307.500px;top:1174px;font-size:16.500px;font-weight:bold;letter-spacing:.55px;color:#6a7077">Sunday</div>
<div class="rad" style="left:724.0px;top:1180.0px;width:15px;height:15px"></div>
<div class="t" style="left:749px;top:1178.0px;font-size:16.500px;font-weight:bold;color:#636970">Yes</div>
<div class="rad on" style="left:807.0px;top:1180.0px;width:15px;height:15px"></div>
<div class="t" style="left:832px;top:1178.0px;font-size:16.500px;font-weight:bold;color:#636970">No</div>
</div>
</body>
</html>
